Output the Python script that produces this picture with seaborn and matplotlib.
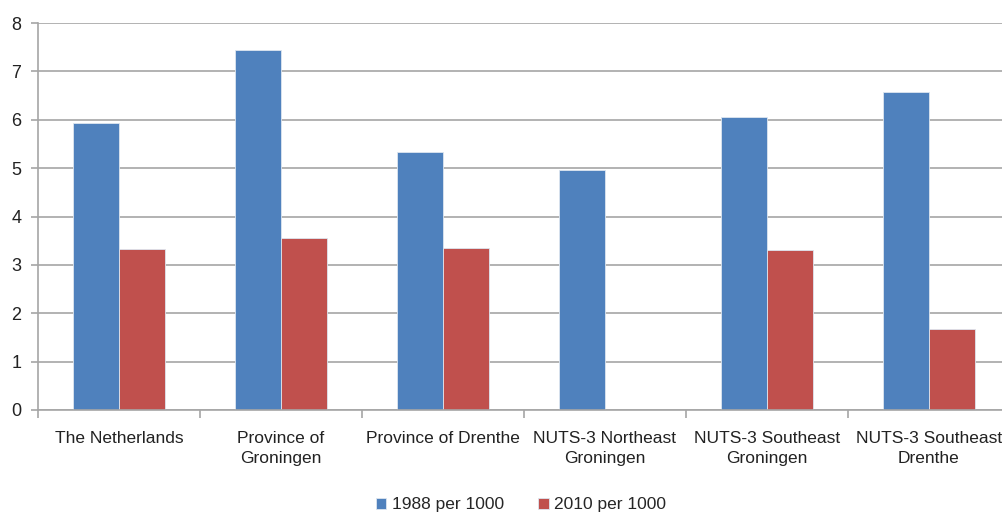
"""
Grouped bar chart: rate per 1000 in 1988 and 2010 for Dutch regions.
"""
import numpy as np
import pandas as pd
import matplotlib
matplotlib.use("Agg")
import matplotlib.pyplot as plt
import seaborn as sns

# data
regions = ["The Netherlands", "Province of\nGroningen", "Province of Drenthe",
           "NUTS-3 Northeast\nGroningen", "NUTS-3 Southeast\nGroningen",
           "NUTS-3 Southeast\nDrenthe"]
rate_1988 = [5.94, 7.45, 5.34, 4.97, 6.05, 6.58]
rate_2010 = [3.33, 3.56, 3.34, np.nan, 3.30, 1.67]
series_names = ["1988 per 1000", "2010 per 1000"]
y_ticks = [0, 1, 2, 3, 4, 5, 6, 7, 8]

df = pd.DataFrame({
    "region": regions * 2,
    "value": rate_1988 + rate_2010,
    "series": [series_names[0]] * len(regions) + [series_names[1]] * len(regions),
})

sns.set_theme(style="white")
plt.rcParams["font.family"] = ["Liberation Sans Narrow", "Liberation Sans", "DejaVu Sans"]

fig = plt.figure(figsize=(10.03, 5.18), dpi=100)
ax = fig.add_axes([0.0379, 0.2085, 0.969, 0.747])

palette = {series_names[0]: "#4F81BD", series_names[1]: "#C0504D"}
sns.barplot(data=df, x="region", y="value", hue="series", order=regions,
            hue_order=series_names, palette=palette, width=0.57,
            edgecolor="#dde6f0", linewidth=0.6, saturation=1, ax=ax)

grid_col = "#a6a6a6"
ax.set_xlim(-0.5, 5.5)
ax.set_ylim(0, 8)
ax.set_yticks(y_ticks)
ax.yaxis.grid(True, color=grid_col, linewidth=1.2)
ax.set_axisbelow(True)
ax.tick_params(axis="y", left=True, length=5, width=1.2, color=grid_col,
               labelsize=13, labelcolor="#222222", pad=7)

ax.set_xticks(range(len(regions)))
ax.set_xticklabels(regions, fontsize=12.5, color="#222222", linespacing=1.45)
ax.tick_params(axis="x", which="major", length=0, pad=15)
ax.set_xticks(np.arange(-0.5, 5.6, 1), minor=True)
ax.tick_params(axis="x", which="minor", bottom=True, length=6, width=1.2, color=grid_col)

for side in ["top", "right"]:
    ax.spines[side].set_visible(False)
for side in ["left", "bottom"]:
    ax.spines[side].set_color(grid_col)
    ax.spines[side].set_linewidth(1.2)

ax.set_xlabel("")
ax.set_ylabel("")
ax.legend(title=None, loc="lower center", bbox_to_anchor=(0.497, -0.305),
          ncol=2, frameon=False, fontsize=12.5, handlelength=0.6,
          handleheight=0.6, handletextpad=0.3, columnspacing=2.0)

fig.savefig("out.png", dpi=100)
